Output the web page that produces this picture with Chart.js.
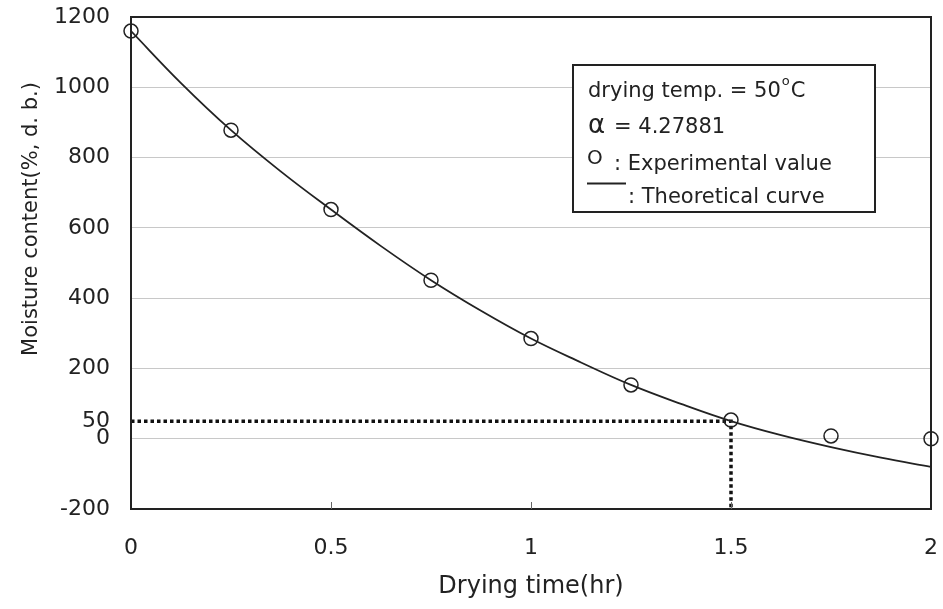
<!DOCTYPE html>
<html>
<head>
<meta charset="utf-8">
<script src="https://cdn.jsdelivr.net/npm/chart.js@4"></script>
<style>
  html, body { margin:0; padding:0; background:#fff; }
  #wrap { width:943px; height:609px; }
</style>
</head>
<body>
<div id="wrap"><canvas id="c" width="943" height="609"></canvas></div>
<script>
// measured moisture content vs drying time
const timeHr = [0, 0.25, 0.5, 0.75, 1, 1.25, 1.5, 1.75, 2];
const measured = [1160, 878, 652, 451, 285, 153, 53, 8, 0];

// theoretical curve, read every 0.125 hr
const curveTime = [0, 0.125, 0.25, 0.375, 0.5, 0.625, 0.75, 0.875, 1, 1.125, 1.25, 1.375, 1.5, 1.625, 1.75, 1.875, 2];
const curveValue = [1160, 1012, 878, 760, 652, 548, 451, 364, 285, 217, 153, 99, 50, 10, -24, -54, -80];

// target moisture guide
const targetMoisture = 50;
const targetTime = 1.5;

const yTickValues = [-200, 0, 50, 200, 400, 600, 800, 1000, 1200];
const yGridValues = [-200, 0, 200, 400, 600, 800, 1000, 1200];
const xTickValues = [0, 0.5, 1, 1.5, 2];

const legendLines = ['drying temp. = 50', '4.27881', ': Experimental value', ': Theoretical curve'];

const FONT = "'DejaVu Sans', sans-serif";
const INK = '#222';

const pts = (xs, ys) => xs.map((x, i) => ({ x: x, y: ys[i] }));

// frame, inward x ticks, y title and the note box
const decor = {
  id: 'decor',
  afterDraw(chart){
    const ctx = chart.ctx, a = chart.chartArea, xs = chart.scales.x;
    ctx.save();
    ctx.strokeStyle = INK;
    ctx.lineWidth = 2;
    ctx.strokeRect(a.left, a.top, a.right - a.left, a.bottom - a.top);
    ctx.lineWidth = 1;
    ctx.strokeStyle = '#666';
    xTickValues.slice(1, -1).forEach(v => {
      const px = Math.round(xs.getPixelForValue(v)) + 0.5;
      ctx.beginPath(); ctx.moveTo(px, a.bottom); ctx.lineTo(px, a.bottom - 7); ctx.stroke();
    });

    // y axis title
    ctx.fillStyle = INK;
    ctx.font = '21px ' + FONT;
    ctx.textAlign = 'center';
    ctx.textBaseline = 'middle';
    ctx.translate(32, 219);
    ctx.rotate(-Math.PI / 2);
    ctx.fillText('Moisture content(%, d. b.)', 0, 0);
    ctx.restore();

    // note box
    ctx.save();
    const bx = a.left + 442, by = a.top + 48, bw = 302, bh = 147;
    ctx.fillStyle = '#fff';
    ctx.fillRect(bx, by, bw, bh);
    ctx.strokeStyle = INK;
    ctx.lineWidth = 2;
    ctx.strokeRect(bx, by, bw, bh);
    ctx.fillStyle = INK;
    ctx.textAlign = 'left';
    ctx.textBaseline = 'alphabetic';
    const tx = bx + 15;
    ctx.font = '21px ' + FONT;
    ctx.fillText(legendLines[0], tx, by + 32);
    let w = ctx.measureText(legendLines[0]).width;
    ctx.font = '13px ' + FONT;
    ctx.fillText('o', tx + w + 1, by + 20);
    ctx.font = '21px ' + FONT;
    ctx.fillText('C', tx + w + 10, by + 32);

    ctx.font = '26px ' + FONT;
    ctx.fillText('\u03b1', tx, by + 68);
    ctx.font = '21px ' + FONT;
    ctx.fillText('= ' + legendLines[1], tx + 26, by + 68);

    ctx.font = '20px ' + FONT;
    ctx.fillText('O', tx - 1, by + 99);
    ctx.font = '21px ' + FONT;
    ctx.fillText(legendLines[2], tx + 26, by + 105);

    ctx.lineWidth = 2;
    ctx.beginPath(); ctx.moveTo(tx - 1, by + 118.5); ctx.lineTo(tx + 38, by + 118.5); ctx.stroke();
    ctx.fillText(legendLines[3], tx + 40, by + 138);
    ctx.restore();
  }
};

new Chart(document.getElementById('c'), {
  type: 'scatter',
  data: {
    datasets: [
      { label: 'Experimental value', data: pts(timeHr, measured), showLine: false,
        pointStyle: 'circle', pointRadius: 7, pointHoverRadius: 7, pointBorderWidth: 1.5,
        pointBorderColor: INK, pointBackgroundColor: 'rgba(0,0,0,0)', clip: false, order: 0 },
      { label: 'Theoretical curve', data: pts(curveTime, curveValue), showLine: true,
        borderColor: INK, borderWidth: 1.8, pointRadius: 0, tension: 0.4, order: 1 },
      { label: 'guide', data: [{ x: 0, y: targetMoisture }, { x: targetTime, y: targetMoisture }, { x: targetTime, y: -200 }],
        showLine: true, borderColor: '#111', borderWidth: 3.5, borderDash: [3.5, 3], pointRadius: 0, order: 2 }
    ]
  },
  options: {
    responsive: false,
    animation: false,
    events: [],
    layout: { padding: { top: 17, right: 12, left: 0, bottom: 0 } },
    plugins: { legend: { display: false }, tooltip: { enabled: false } },
    scales: {
      x: {
        type: 'linear', min: 0, max: 2,
        afterBuildTicks: s => { s.ticks = xTickValues.map(v => ({ value: v })); },
        afterFit: s => { s.height = 100; s.paddingLeft = 0; s.paddingRight = 0; },
        grid: { display: false, drawTicks: false },
        border: { display: false },
        ticks: { color: INK, font: { family: FONT, size: 22 }, padding: 26, maxRotation: 0, autoSkip: false, callback: v => String(v) },
        title: { display: true, text: 'Drying time(hr)', color: INK, font: { family: FONT, size: 24 }, padding: { top: 0, bottom: 8 } }
      },
      y: {
        type: 'linear', min: -200, max: 1200,
        afterBuildTicks: s => { s.ticks = yTickValues.map(v => ({ value: v })); },
        afterFit: s => { s.width = 131; s.paddingTop = 0; s.paddingBottom = 0; },
        grid: {
          drawTicks: false,
          color: c => yGridValues.includes(c.tick.value) ? '#c8c8c8' : 'rgba(0,0,0,0)',
          lineWidth: 1
        },
        border: { display: false },
        ticks: { color: INK, font: { family: FONT, size: 22 }, padding: 21, autoSkip: false, callback: v => String(v) }
      }
    }
  },
  plugins: [decor]
});
</script>
</body>
</html>
